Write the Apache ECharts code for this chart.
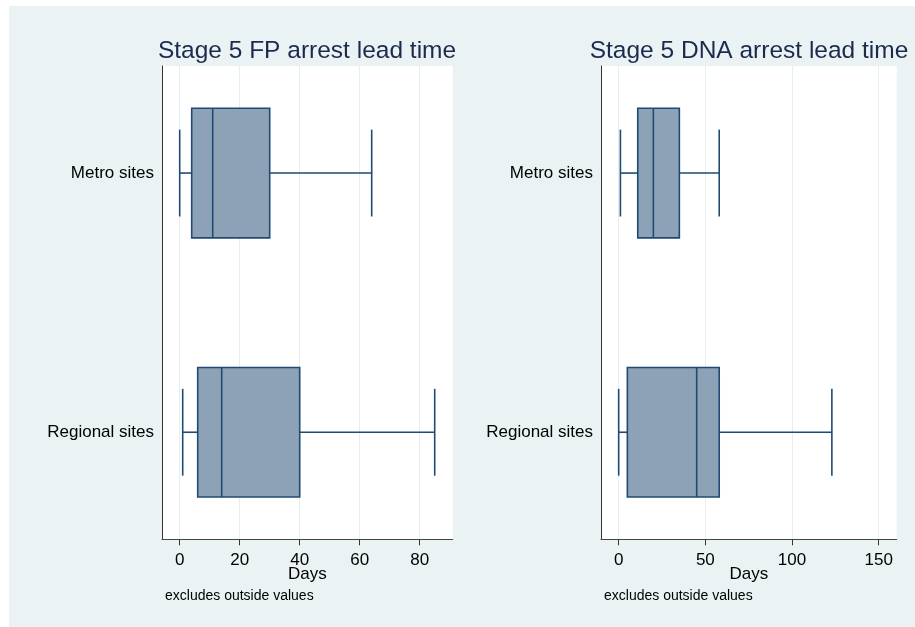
<!DOCTYPE html>
<html>
<head>
<meta charset="utf-8">
<script src="https://cdn.jsdelivr.net/npm/echarts@6/dist/echarts.min.js"></script>
<style>
  html, body { margin: 0; padding: 0; background: #ffffff; }
  #chart { width: 915px; height: 627px; }
</style>
</head>
<body>
<div id="chart"></div>
<script>
// Box-plot summaries (whisker low, Q1, median, Q3, whisker high), in days
const categories = ['Metro sites', 'Regional sites'];

const fpLow    = [0, 1];
const fpQ1     = [4, 6];
const fpMedian = [11, 14];
const fpQ3     = [30, 40];
const fpHigh   = [64, 85];

const dnaLow    = [1, 0];
const dnaQ1     = [11, 5];
const dnaMedian = [20, 45];
const dnaQ3     = [35, 58];
const dnaHigh   = [58, 123];

const fpTicks  = [0, 20, 40, 60, 80];
const dnaTicks = [0, 50, 100, 150];

const panelTitles = ['Stage 5 FP arrest lead time', 'Stage 5 DNA arrest lead time'];
const axisName = 'Days';
const noteText = 'excludes outside values';

const FONT = '"Liberation Sans", Arial, sans-serif';
const BOX_FILL = '#8DA2B7';
const BOX_LINE = '#1F4A73';

function rows(lo, q1, med, q3, hi) {
  return categories.map((c, i) => [i, lo[i], q1[i], med[i], q3[i], hi[i]]);
}

function renderBox(params, api) {
  const cat = api.value(0);
  const lo = api.coord([api.value(1), cat]);
  const q1 = api.coord([api.value(2), cat]);
  const md = api.coord([api.value(3), cat]);
  const q3 = api.coord([api.value(4), cat]);
  const hi = api.coord([api.value(5), cat]);
  const boxH = api.size([0, 0.5])[1];
  const capH = api.size([0, 0.335])[1];
  const y = lo[1];
  const lineStyle = { stroke: BOX_LINE, lineWidth: 1.6, fill: null };
  return {
    type: 'group',
    children: [
      { type: 'line', shape: { x1: lo[0], y1: y, x2: q1[0], y2: y }, style: lineStyle },
      { type: 'line', shape: { x1: q3[0], y1: y, x2: hi[0], y2: y }, style: lineStyle },
      { type: 'line', shape: { x1: lo[0], y1: y - capH / 2, x2: lo[0], y2: y + capH / 2 }, style: lineStyle },
      { type: 'line', shape: { x1: hi[0], y1: y - capH / 2, x2: hi[0], y2: y + capH / 2 }, style: lineStyle },
      { type: 'rect', shape: { x: q1[0], y: y - boxH / 2, width: q3[0] - q1[0], height: boxH },
        style: { fill: BOX_FILL, stroke: BOX_LINE, lineWidth: 1.6 } },
      { type: 'line', shape: { x1: md[0], y1: y - boxH / 2, x2: md[0], y2: y + boxH / 2 }, style: lineStyle }
    ]
  };
}

function xAxisFor(gridIndex, min, max, ticks) {
  return {
    type: 'value', gridIndex, min, max,
    name: axisName, nameLocation: 'middle', nameGap: 27, nameMoveOverlap: false,
    nameTextStyle: { fontFamily: FONT, fontSize: 17, color: '#000' },
    axisLine: { show: true, onZero: false, lineStyle: { color: '#444', width: 1 } },
    axisTick: { show: true, length: 6, lineStyle: { color: '#333' }, customValues: ticks },
    axisLabel: { customValues: ticks, margin: 13, fontFamily: FONT, fontSize: 17, color: '#000' },
    splitLine: { show: true, lineStyle: { color: '#E6EEF0', width: 1 } }
  };
}

function yAxisFor(gridIndex) {
  return {
    type: 'value', gridIndex, inverse: true, min: -0.413, max: 1.413,
    axisLine: { show: true, onZero: false, lineStyle: { color: '#333', width: 1 } },
    axisTick: { show: false },
    splitLine: { show: false },
    axisLabel: {
      customValues: [0, 1], margin: 8,
      fontFamily: FONT, fontSize: 17, color: '#000',
      formatter: v => categories[Math.round(v)]
    }
  };
}

const titleStyle = { fontFamily: FONT, fontSize: 24.5, fontWeight: 'normal', color: '#1C2A4E' };
const noteStyle = { fontFamily: FONT, fontSize: 14, fontWeight: 'normal', color: '#000' };

const chart = echarts.init(document.getElementById('chart'), null, { renderer: 'canvas' });
chart.setOption({
  animation: false,
  backgroundColor: '#ffffff',
  graphic: [{
    type: 'rect', z: -10, silent: true,
    shape: { x: 9, y: 6, width: 906, height: 621 },
    style: { fill: '#EAF2F3' }
  }],
  title: [
    { text: panelTitles[0], left: 307, top: 39, textAlign: 'center', padding: 0, textStyle: titleStyle },
    { text: panelTitles[1], left: 749, top: 39, textAlign: 'center', padding: 0, textStyle: titleStyle },
    { text: noteText, left: 165, top: 589, padding: 0, textStyle: noteStyle },
    { text: noteText, left: 604, top: 589, padding: 0, textStyle: noteStyle }
  ],
  grid: [
    { left: 162, top: 66, width: 290.7, height: 473.3, show: true, backgroundColor: '#ffffff', borderWidth: 0 },
    { left: 601, top: 66, width: 295.7, height: 473.3, show: true, backgroundColor: '#ffffff', borderWidth: 0 }
  ],
  xAxis: [
    xAxisFor(0, -5.9, 91, fpTicks),
    xAxisFor(1, -10.2, 160.4, dnaTicks)
  ],
  yAxis: [yAxisFor(0), yAxisFor(1)],
  series: [
    { type: 'custom', xAxisIndex: 0, yAxisIndex: 0, renderItem: renderBox,
      encode: { x: [1, 2, 3, 4, 5], y: 0 },
      data: rows(fpLow, fpQ1, fpMedian, fpQ3, fpHigh) },
    { type: 'custom', xAxisIndex: 1, yAxisIndex: 1, renderItem: renderBox,
      encode: { x: [1, 2, 3, 4, 5], y: 0 },
      data: rows(dnaLow, dnaQ1, dnaMedian, dnaQ3, dnaHigh) }
  ]
});
</script>
</body>
</html>
